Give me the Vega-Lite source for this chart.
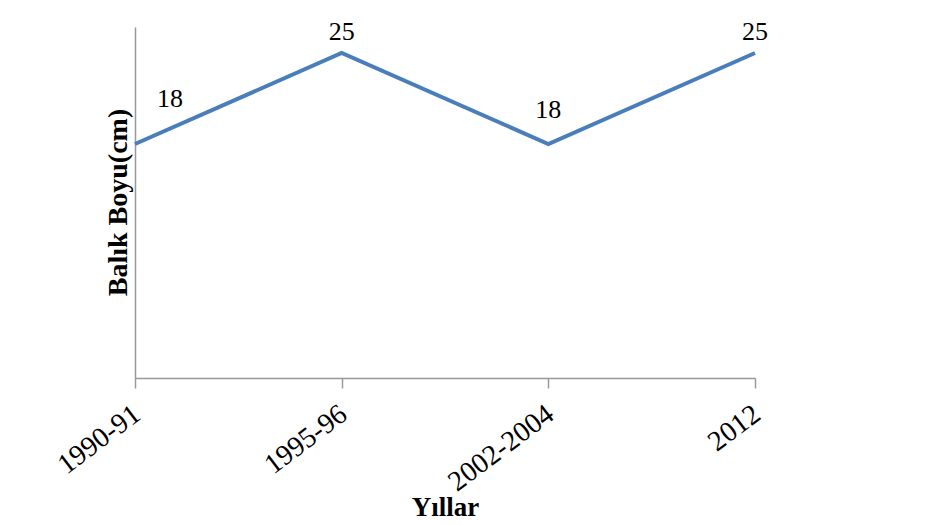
{
  "$schema": "https://vega.github.io/schema/vega-lite/v6.json",
  "width": 620,
  "height": 351,
  "autosize": {"type": "none"},
  "padding": {"left": 135, "top": 27, "right": 196, "bottom": 147},
  "background": "white",
  "config": {"view": {"stroke": null}, "font": "Liberation Serif"},
  "data": {"values": [
    {"Yil": "1990-91", "Boy": 18},
    {"Yil": "1995-96", "Boy": 25},
    {"Yil": "2002-2004", "Boy": 18},
    {"Yil": "2012", "Boy": 25}
  ]},
  "encoding": {
    "x": {
      "field": "Yil", "type": "ordinal", "sort": null,
      "scale": {"type": "point", "padding": 0},
      "axis": {
        "title": "Yıllar", "titleFont": "Liberation Serif", "titleFontSize": 27, "titleFontWeight": "bold", "titleColor": "black",
        "titleY": 137, "titleBaseline": "alphabetic",
        "labelAngle": -37, "labelAlign": "right", "labelBaseline": "top", "labelFont": "Liberation Serif", "labelFontSize": 28.5, "labelColor": "black", "labelPadding": 11, "labelOffset": -7,
        "tickSize": 10, "tickColor": "#999999", "domainColor": "#999999", "domainWidth": 1.5, "tickWidth": 1.5, "grid": false
      }
    },
    "y": {
      "field": "Boy", "type": "quantitative",
      "scale": {"domain": [0, 27], "nice": false, "zero": true},
      "axis": {
        "title": "Balık Boyu(cm)", "titleFont": "Liberation Serif", "titleFontSize": 28, "titleFontWeight": "bold", "titleColor": "black",
        "titleX": -9, "titleY": 175, "titleAngle": -90, "titleBaseline": "alphabetic", "titleAlign": "center",
        "labels": false, "ticks": false, "grid": false, "domainColor": "#999999", "domainWidth": 1.5
      }
    }
  },
  "layer": [
    {"mark": {"type": "line", "color": "#4A7EBB", "strokeWidth": 4}},
    {
      "transform": [{"filter": "datum.Yil == '1990-91'"}],
      "mark": {"type": "text", "font": "Liberation Serif", "fontSize": 26, "dx": 35, "dy": -37, "baseline": "alphabetic", "align": "center", "color": "black"},
      "encoding": {"text": {"field": "Boy", "type": "quantitative"}}
    },
    {
      "transform": [{"filter": "datum.Boy == 25"}],
      "mark": {"type": "text", "font": "Liberation Serif", "fontSize": 26, "dy": -13, "baseline": "alphabetic", "align": "center", "color": "black"},
      "encoding": {"text": {"field": "Boy", "type": "quantitative"}}
    },
    {
      "transform": [{"filter": "datum.Yil == '2002-2004'"}],
      "mark": {"type": "text", "font": "Liberation Serif", "fontSize": 26, "dy": -26, "baseline": "alphabetic", "align": "center", "color": "black"},
      "encoding": {"text": {"field": "Boy", "type": "quantitative"}}
    }
  ]
}
